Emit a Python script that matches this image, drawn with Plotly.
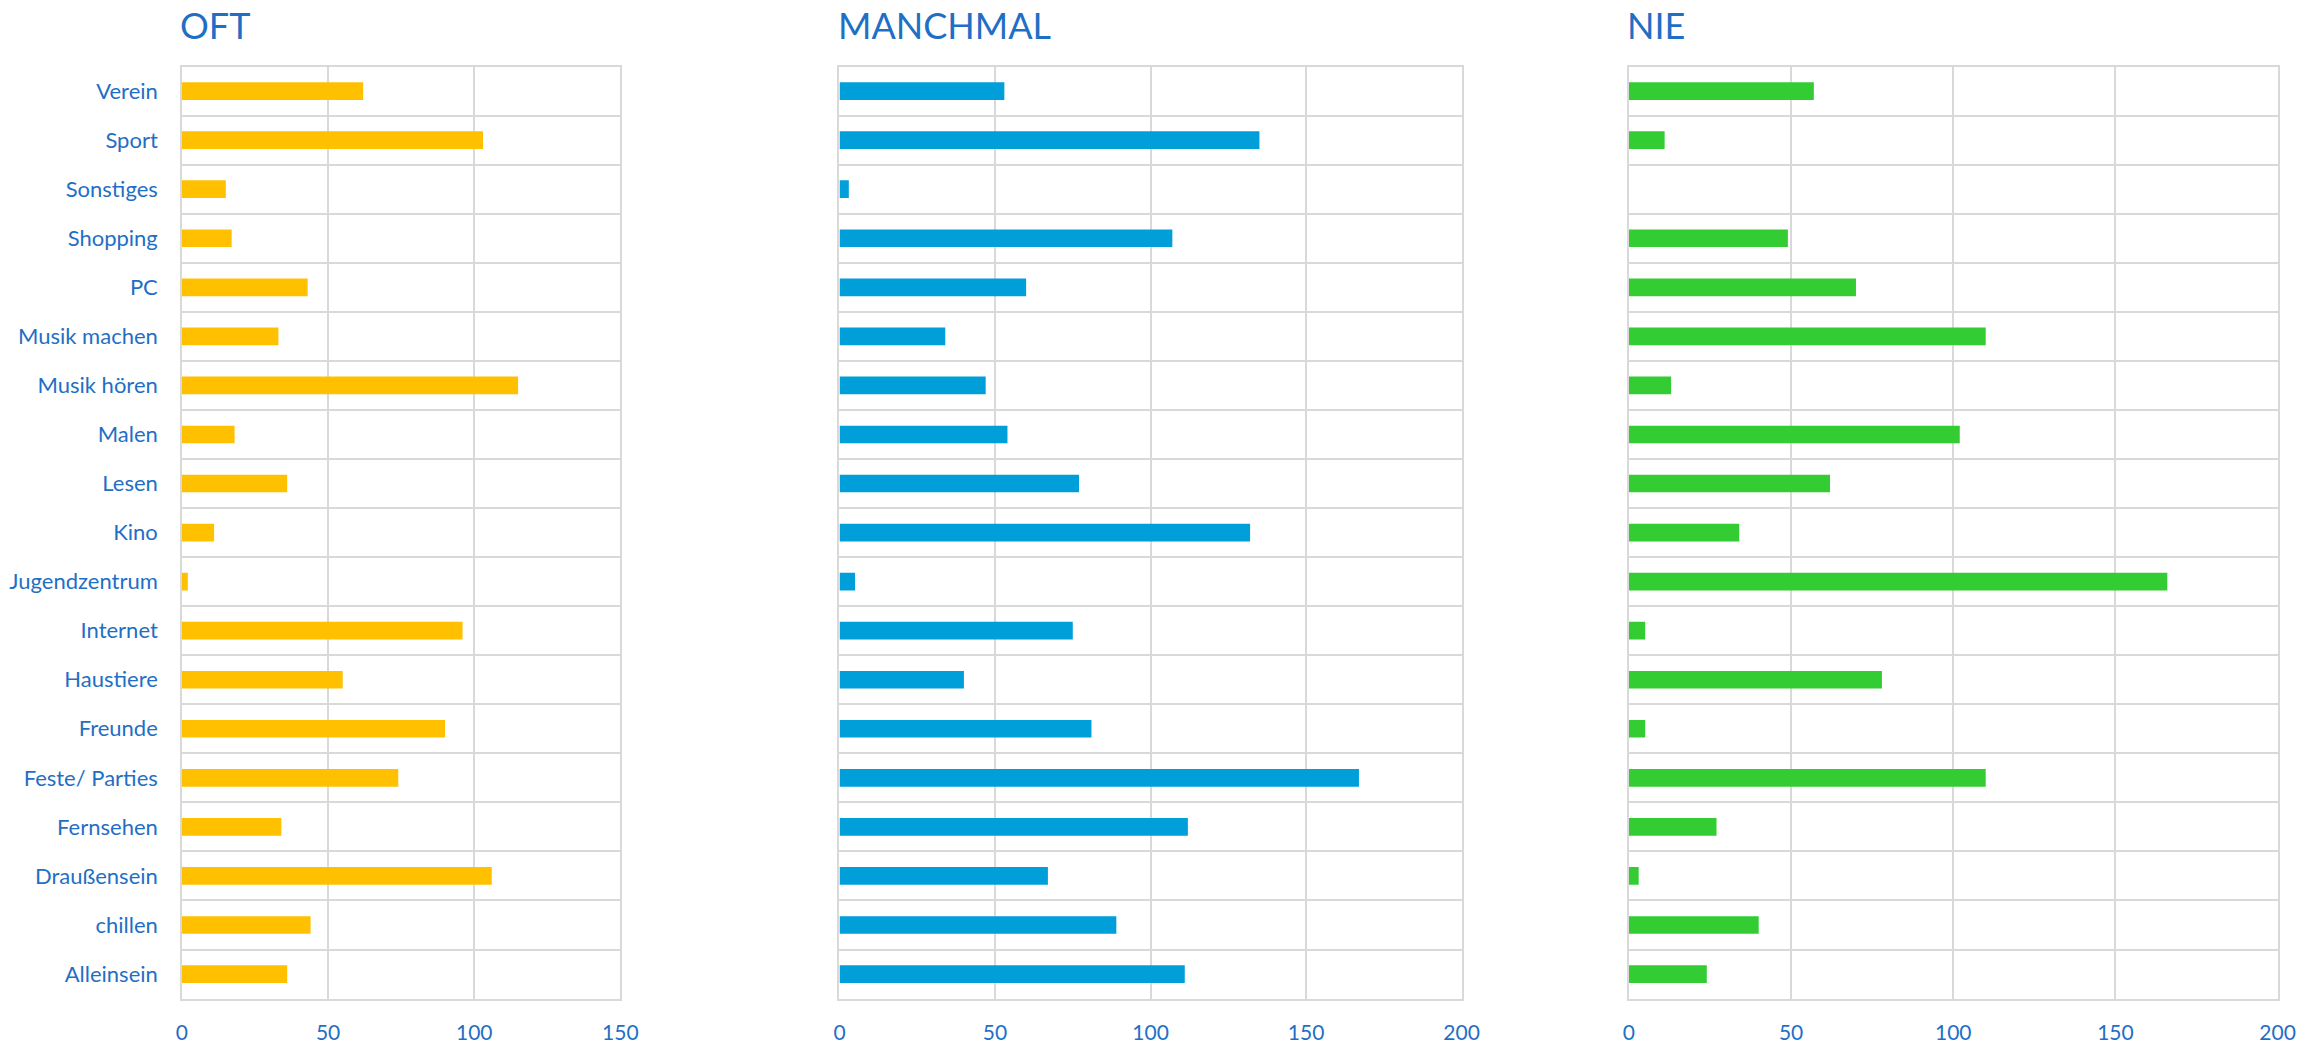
import plotly.graph_objects as go

categories = ["Alleinsein", "chillen", "Draußensein", "Fernsehen", "Feste/ Parties",
              "Freunde", "Haustiere", "Internet", "Jugendzentrum", "Kino", "Lesen",
              "Malen", "Musik hören", "Musik machen", "PC", "Shopping", "Sonstiges",
              "Sport", "Verein"]

oft = [36, 44, 106, 34, 74, 90, 55, 96, 2, 11, 36, 18, 115, 33, 43, 17, 15, 103, 62]
manchmal = [111, 89, 67, 112, 167, 81, 40, 75, 5, 132, 77, 54, 47, 34, 60, 107, 3, 135, 53]
nie = [24, 40, 3, 27, 110, 5, 78, 5, 166, 34, 62, 102, 13, 110, 70, 49, 0, 11, 57]

panel_titles = ["OFT", "MANCHMAL", "NIE"]
panel_ranges = [[0, 150], [0, 200], [0, 200]]
tick_values = [[0, 50, 100, 150], [0, 50, 100, 150, 200], [0, 50, 100, 150, 200]]
colors = ["#FFC000", "#009FDA", "#33CC33"]

W, H = 2323, 1044
x_domains = [[177.8 / W, 620.8 / W], [842.2 / W, 1470.8 / W], [1639.9 / W, 2295.3 / W]]
y_domain = [1 - 1000.5 / H, 1 - 66.7 / H]

TEXT = "#1F6FC5"
GRID = "#D9D9D9"
FONT = "Lato"

fig = go.Figure()
series = [oft, manchmal, nie]
layout = dict(
    width=W, height=H,
    margin=dict(l=0, r=0, t=0, b=0),
    paper_bgcolor="white", plot_bgcolor="white",
    showlegend=False,
    font=dict(family=FONT, color=TEXT, size=20),
)
annotations = []
for i in range(3):
    xa = "x" if i == 0 else f"x{i+1}"
    ya = "y" if i == 0 else f"y{i+1}"
    fig.add_trace(go.Bar(
        x=series[i], y=categories, orientation="h",
        marker=dict(color=colors[i], line=dict(width=0)),
        xaxis=xa, yaxis=ya, width=0.36,
    ))
    xkey = "xaxis" if i == 0 else f"xaxis{i+1}"
    ykey = "yaxis" if i == 0 else f"yaxis{i+1}"
    layout[xkey] = dict(
        domain=x_domains[i], anchor=ya, range=panel_ranges[i],
        tickvals=tick_values[i], showgrid=True, gridcolor=GRID, gridwidth=1.5,
        showline=True, linecolor=GRID, linewidth=1.5, mirror=True,
        zeroline=False, ticks="", ticklabelstandoff=14,
        tickfont=dict(family=FONT, size=21, color=TEXT), fixedrange=True,
    )
    layout[ykey] = dict(
        domain=y_domain, anchor=xa, type="category",
        categoryorder="array", categoryarray=categories,
        tickson="boundaries", showgrid=True, gridcolor=GRID, gridwidth=1.5,
        showline=True, linecolor=GRID, linewidth=1.5, mirror=True,
        ticks="", showticklabels=(i == 0), ticklabelstandoff=18,
        tickfont=dict(family=FONT, size=22, color=TEXT), fixedrange=True,
    )
    annotations.append(dict(
        text=panel_titles[i], xref="paper", yref="paper",
        x=x_domains[i][0] - 4 / W, y=1 - 1 / H, xanchor="left", yanchor="top",
        showarrow=False, font=dict(family=FONT, size=36, color=TEXT),
    ))
layout["annotations"] = annotations
fig.update_layout(**layout)
fig.write_html(
    "out.html",
    config={"displayModeBar": False},
    post_script="document.body.style.margin='0';document.body.style.overflow='hidden';",
)
